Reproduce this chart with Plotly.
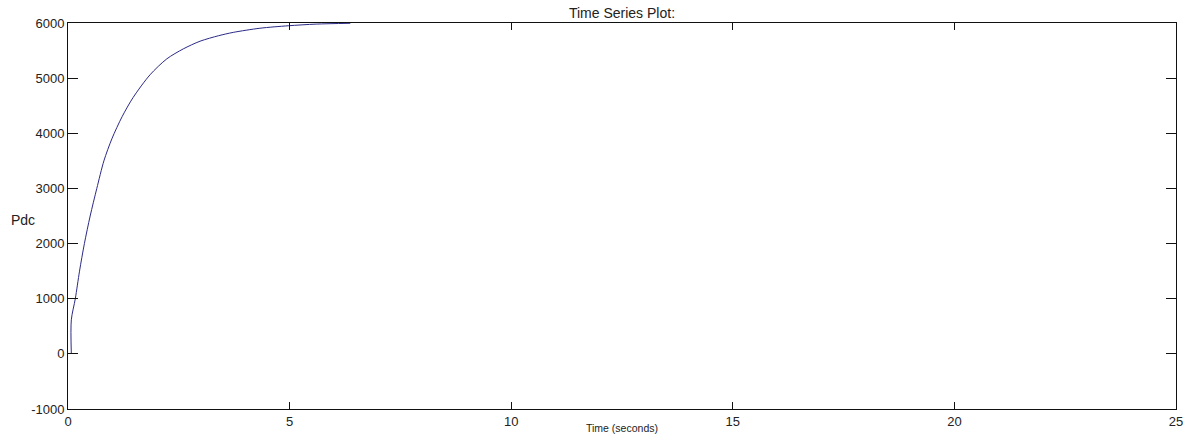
import plotly.graph_objects as go

# Data
time_s = [0.075, 0.075, 0.165, 0.26, 0.37, 0.50, 0.65, 0.81, 0.99, 1.22, 1.47, 1.85,
          2.23, 2.60, 2.98, 3.40, 3.73, 4.33, 4.97, 5.60, 6.37]
pdc = [0, 617, 1000, 1500, 2000, 2500, 3000, 3500, 3900, 4300, 4650, 5060,
       5350, 5530, 5670, 5770, 5830, 5905, 5950, 5980, 5995]

x_ticks = [0, 5, 10, 15, 20, 25]
y_ticks = [-1000, 0, 1000, 2000, 3000, 4000, 5000, 6000]

fig = go.Figure()
fig.add_trace(go.Scatter(x=time_s, y=pdc, mode="lines",
                         line=dict(color="#2a2a86", width=1, shape="spline", smoothing=0.8),
                         showlegend=False, hoverinfo="skip"))

FAM = "Liberation Sans, Arial, sans-serif"
tick_font = dict(family=FAM, size=13, color="#222222")
label_font = dict(family=FAM, size=14, color="#222222")
xlabel_font = dict(family=FAM, size=10.5, color="#222222")

fig.update_layout(
    width=1184, height=436,
    margin=dict(l=68, r=8, t=23, b=27, autoexpand=False),
    paper_bgcolor="white", plot_bgcolor="white",
    font=tick_font,
    title=dict(text="Time Series Plot:", x=622 / 1184, xanchor="center", xref="container",
               y=1 - 13 / 436, yanchor="middle", yref="container", automargin=False,
               font=label_font),
)
fig.update_xaxes(range=[0, 25], tickvals=x_ticks, ticktext=[str(v) for v in x_ticks],
                 showgrid=False, zeroline=False, showline=True, linecolor="#111111", linewidth=1,
                 mirror="ticks", ticks="inside", ticklen=7, tickcolor="#111111", automargin=False,
                 tickfont=tick_font)
fig.update_yaxes(range=[-1000, 6000], tickvals=y_ticks, ticktext=[str(v) for v in y_ticks],
                 showgrid=False, zeroline=False, showline=True, linecolor="#111111", linewidth=1,
                 mirror="ticks", ticks="inside", ticklen=10, tickcolor="#111111", automargin=False,
                 tickfont=tick_font)

fig.add_annotation(text="Pdc", xref="paper", yref="paper", x=(9 - 68) / 1108, y=(409 - 220) / 386,
                   xanchor="left", yanchor="middle", showarrow=False, font=label_font)
fig.add_annotation(text="Time (seconds)", xref="paper", yref="paper", x=(622 - 68) / 1108,
                   y=(409 - 428) / 386, xanchor="center", yanchor="middle", showarrow=False,
                   font=xlabel_font)

fig.write_html("out.html", config={"displayModeBar": False},
               post_script="document.body.style.margin='0';document.body.style.overflow='hidden';")
